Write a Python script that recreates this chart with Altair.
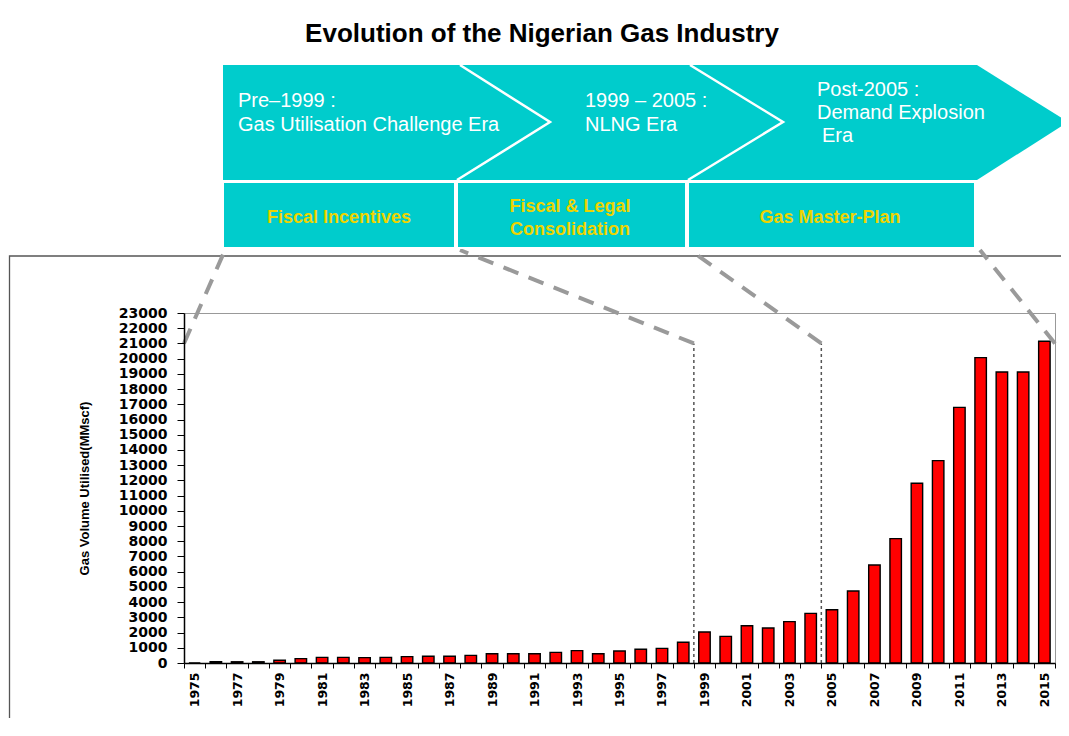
import altair as alt
import pandas as pd

# ---------------- data ----------------
years = list(range(1975, 2016))
volumes = [0, 80, 80, 80, 180, 290, 370, 370, 350, 370, 420, 440, 440, 500, 610,
           610, 610, 700, 810, 610, 790, 900, 960, 1360, 2040, 1750, 2450, 2300, 2720, 3260,
           3500, 4730, 6440, 8170, 11810, 13300, 16800, 20070, 19120, 19120, 21140]

era_bounds = [1998.5, 2004.5]          # band edges before 1999 and 2005
era_top = 21000

era_lines_top = [
    ["Pre\u20131999 :", "Gas Utilisation Challenge Era"],
    ["1999 \u2013 2005 :", "NLNG Era"],
    ["Post-2005 :", "Demand Explosion", "Era"],
]
policy_lines = [["Fiscal Incentives"], ["Fiscal & Legal", "Consolidation"], ["Gas Master-Plan"]]
title_text = "Evolution of the Nigerian Gas Industry"
y_title = "Gas Volume Utilised(MMscf)"

# ---------------- layout of the banner (page pixels) ----------------
PLOT_L, PLOT_W, PLOT_B, PLOT_H = 184, 871, 663, 350
X_DOM = [1974.5, 2015.5]
Y_DOM = [0, 23000]


def ux(p):
    return X_DOM[0] + (p - PLOT_L) * (X_DOM[1] - X_DOM[0]) / PLOT_W


def uy(p):
    return (PLOT_B - p) * (Y_DOM[1] - Y_DOM[0]) / PLOT_H


band_x = (223, 977)
band_y = (65, 180)
tip = [(977, 65, 180), (1068, 122, 122)]
separators = [[(460, 65), (550, 122), (457, 180)], [(690, 65), (783, 122), (688, 180)]]
box_x = [(223, 455), (457, 686), (688, 975)]
box_y = (182, 248)
top_text_x = [[238, 238], [585, 585], [817, 817, 822]]
top_text_base = [[107, 131], [107, 131], [96, 119, 142]]
pol_text_x = [339, 570, 830]
pol_text_base = [[223], [212, 235], [223]]
conn_top_px = [225, 460, 690, 980]
conn_top_py = 250
conn_bottom_year = [1974.5, 1998.5, 2004.5, 2015.5]
frame_px = (9.5, 256, 1200, 900)
title_px = (542, 42)

CYAN = "#00CCCC"
YELLOW = "#EDD400"

xs = alt.Scale(domain=X_DOM, nice=False, zero=False)
ys = alt.Scale(domain=Y_DOM, nice=False, zero=False)

AX = alt.Axis(
    values=[X_DOM[0] + i for i in range(42)],
    labelExpr="datum.value < 2015 && (datum.value + 0.5) % 2 == 1 ? format(datum.value + 0.5, 'd') : ''",
    labelOffset=10.62, labelAngle=-90, labelOverlap=False, labelFlush=False,
    labelFont="DejaVu Sans", labelFontWeight="bold", labelFontSize=12.5, labelColor="#000",
    tickSize=5, tickColor="#000", domainColor="#000", domainWidth=1.5, labelPadding=4,
    grid=False, title=None, zindex=1)
AY = alt.Axis(
    values=list(range(0, 23001, 1000)), format="d",
    labelFont="DejaVu Sans", labelFontWeight="bold", labelFontSize=14, labelColor="#000",
    tickSize=7, tickColor="#000", domainColor="#000", domainWidth=1.5, labelPadding=10,
    grid=False, title=y_title, titleFont="Liberation Sans", titleFontSize=13,
    titleFontWeight="bold", titleColor="#000", titleX=-100, titleY=175,
    titleBaseline="middle", labelOverlap=False, zindex=1)


def X(f):
    return alt.X(f, scale=xs, axis=AX)


def Y(f):
    return alt.Y(f, scale=ys, axis=AY)


# ---------------- frame ----------------
frame = alt.Chart(pd.DataFrame({"x": [ux(frame_px[0])], "x2": [ux(frame_px[2])],
                                "y": [uy(frame_px[1])], "y2": [uy(frame_px[3])]})).mark_rect(
    fill="#FFFFFF", fillOpacity=0, stroke="#555555", strokeWidth=1.3
).encode(x=X("x:Q"), x2="x2:Q", y=Y("y:Q"), y2="y2:Q")

# ---------------- bars ----------------
bars_df = pd.DataFrame({"year": years, "v": volumes})
bars = alt.Chart(bars_df).transform_calculate(
    x0="datum.year - 0.27", x1="datum.year + 0.27"
).mark_bar(fill="#FF0000", stroke="#000000", strokeWidth=1.4).encode(
    x=X("x0:Q"), x2="x1:Q", y=Y("v:Q"), y2=alt.datum(0),
)

era_df = pd.DataFrame({"xb": era_bounds, "y0": [0] * len(era_bounds), "y1": [era_top] * len(era_bounds)})
era_rules = alt.Chart(era_df).mark_rule(color="#555555", strokeWidth=1.5, strokeDash=[3, 3]).encode(
    x=X("xb:Q"), y=Y("y0:Q"), y2="y1:Q")

conn_df = pd.DataFrame({"xb": conn_bottom_year, "yb": [era_top] * 4,
                        "xt": [ux(p) for p in conn_top_px], "yt": [uy(conn_top_py)] * 4})
connectors = alt.Chart(conn_df).mark_rule(color="#9A9A9A", strokeWidth=4, strokeDash=[16, 11]).encode(
    x=X("xb:Q"), y=Y("yb:Q"), x2="xt:Q", y2="yt:Q")

# ---------------- banner ----------------
band = alt.Chart(pd.DataFrame({"x": [ux(band_x[0])], "x2": [ux(band_x[1])],
                               "y": [uy(band_y[0])], "y2": [uy(band_y[1])]})).mark_rect(
    fill=CYAN).encode(x=X("x:Q"), x2="x2:Q", y=Y("y:Q"), y2="y2:Q")

tip_df = pd.DataFrame({"x": [ux(t[0]) for t in tip], "y": [uy(t[1]) for t in tip],
                       "y2": [uy(t[2]) for t in tip]})
tip_area = alt.Chart(tip_df).mark_area(fill=CYAN, orient="vertical").encode(
    x=X("x:Q"), y=Y("y:Q"), y2="y2:Q")

sep_rows = []
for i, pts in enumerate(separators):
    for j, (a, b) in enumerate(pts):
        sep_rows.append({"id": i, "seq": j, "x": ux(a), "y": uy(b)})
seps = alt.Chart(pd.DataFrame(sep_rows)).mark_line(color="#FFFFFF", strokeWidth=2.5).encode(
    x=X("x:Q"), y=Y("y:Q"), detail="id:N", order="seq:Q")

box_df = pd.DataFrame({"x": [ux(b[0]) for b in box_x], "x2": [ux(b[1]) for b in box_x],
                       "y": [uy(box_y[0])] * 3, "y2": [uy(box_y[1])] * 3})
boxes = alt.Chart(box_df).mark_rect(fill=CYAN, stroke="#FFFFFF", strokeWidth=2).encode(
    x=X("x:Q"), x2="x2:Q", y=Y("y:Q"), y2="y2:Q")

top_rows = []
for i, lines in enumerate(era_lines_top):
    for j, t in enumerate(lines):
        top_rows.append({"x": ux(top_text_x[i][j]), "y": uy(top_text_base[i][j]), "t": t})
top_text = alt.Chart(pd.DataFrame(top_rows)).mark_text(
    align="left", baseline="alphabetic", font="Liberation Sans", fontSize=20, color="#FFFFFF"
).encode(x=X("x:Q"), y=Y("y:Q"), text="t:N")

pol_rows = []
for i, lines in enumerate(policy_lines):
    for j, t in enumerate(lines):
        pol_rows.append({"x": ux(pol_text_x[i]), "y": uy(pol_text_base[i][j]), "t": t})
pol_text = alt.Chart(pd.DataFrame(pol_rows)).mark_text(
    align="center", baseline="alphabetic", font="Liberation Sans", fontSize=18,
    fontWeight="bold", color=YELLOW
).encode(x=X("x:Q"), y=Y("y:Q"), text="t:N")

title = alt.Chart(pd.DataFrame({"x": [ux(title_px[0])], "y": [uy(title_px[1])], "t": [title_text]})).mark_text(
    align="center", baseline="alphabetic", font="Liberation Sans", fontSize=26,
    fontWeight="bold", color="#000000"
).encode(x=X("x:Q"), y=Y("y:Q"), text="t:N")

chart = alt.layer(
    frame, bars, era_rules, connectors, band, tip_area, seps, boxes, top_text, pol_text, title
).properties(
    width=PLOT_W, height=PLOT_H,
    padding={"left": 176, "top": 305, "right": 6, "bottom": 55},
    autosize=alt.AutoSizeParams(type="none"),
    background="#FFFFFF",
).configure_view(stroke="#999999", strokeWidth=1)

chart.save("out.html", embed_options={"renderer": "svg", "actions": False})
